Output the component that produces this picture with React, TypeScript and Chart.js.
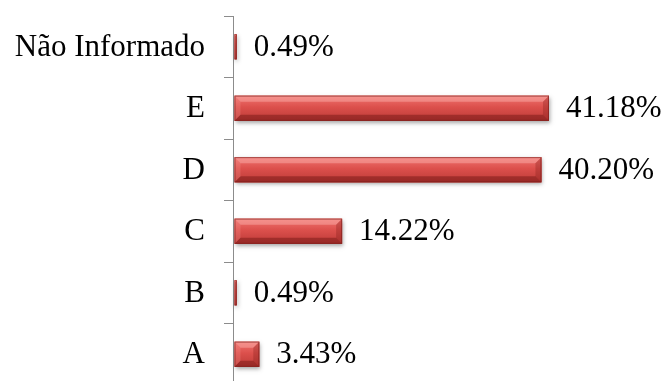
import React, { useEffect, useRef } from "react";
import { Chart, registerables } from "chart.js";

Chart.register(...registerables);

const categories = ["Não Informado", "E", "D", "C", "B", "A"];
const percentages = [0.49, 41.18, 40.2, 14.22, 0.49, 3.43];

const FONT = "'Liberation Serif', 'Times New Roman', serif";
const FONT_SIZE = 31;

function drawBevelBar(ctx: CanvasRenderingContext2D, x0: number, x1: number, y0: number, y1: number) {
  const w = x1 - x0;
  const h = y1 - y0;
  if (w <= 0) return;
  const b = Math.max(0, Math.min(6, w / 2, h / 4));

  // drop shadow
  ctx.save();
  ctx.shadowColor = "rgba(0,0,0,0.35)";
  ctx.shadowBlur = 4;
  ctx.shadowOffsetX = 1;
  ctx.shadowOffsetY = 2;
  ctx.fillStyle = "#c03f3c";
  ctx.fillRect(x0, y0, w, h);
  ctx.restore();

  // face
  const g = ctx.createLinearGradient(0, y0, 0, y1);
  g.addColorStop(0, "#f07470");
  g.addColorStop(0.45, "#dc504c");
  g.addColorStop(1, "#bc3a37");
  ctx.fillStyle = g;
  ctx.fillRect(x0, y0, w, h);

  const poly = (pts: number[][], color: string) => {
    ctx.beginPath();
    ctx.moveTo(pts[0][0], pts[0][1]);
    for (let i = 1; i < pts.length; i++) ctx.lineTo(pts[i][0], pts[i][1]);
    ctx.closePath();
    ctx.fillStyle = color;
    ctx.fill();
  };

  if (b > 0.5) {
    // top bevel
    poly([[x0, y0], [x1, y0], [x1 - b, y0 + b], [x0 + b, y0 + b]], "rgba(255,190,186,0.4)");
    // bottom bevel
    poly([[x0, y1], [x1, y1], [x1 - b, y1 - b], [x0 + b, y1 - b]], "rgba(100,15,12,0.4)");
    // right bevel
    poly([[x1, y0], [x1, y1], [x1 - b, y1 - b], [x1 - b, y0 + b]], "rgba(125,25,22,0.3)");
    // left bevel
    poly([[x0, y0], [x0, y1], [x0 + b, y1 - b], [x0 + b, y0 + b]], "rgba(255,170,165,0.2)");
  }

  ctx.strokeStyle = "rgba(120,28,25,0.6)";
  ctx.lineWidth = 1;
  ctx.strokeRect(x0 + 0.5, y0 + 0.5, Math.max(0, w - 1), h - 1);
}

const bevelBars = {
  id: "bevelBars",
  afterDatasetsDraw(chart: any) {
    const ctx = chart.ctx as CanvasRenderingContext2D;
    const meta = chart.getDatasetMeta(0);
    const yScale = chart.scales.y;
    meta.data.forEach((el: any, i: number) => {
      const { x, y, base, height } = el.getProps(["x", "y", "base", "height"], true);
      const x0 = base + 1.5;
      const x1 = Math.max(x, x0 + 1);
      drawBevelBar(ctx, x0, x1, y - height / 2, y + height / 2);

      ctx.save();
      ctx.fillStyle = "#000";
      ctx.font = `${FONT_SIZE}px ${FONT}`;
      ctx.textBaseline = "middle";
      // value label
      ctx.textAlign = "left";
      ctx.fillText(`${percentages[i].toFixed(2)}%`, x1 + 17, y + 1);
      // category label
      ctx.textAlign = "right";
      ctx.fillText(categories[i], yScale.right - 28, yScale.getPixelForValue(i) + 1);
      ctx.restore();
    });
  },
};

export default function App() {
  const ref = useRef<HTMLCanvasElement | null>(null);

  useEffect(() => {
    if (!ref.current) return;
    const chart = new Chart(ref.current, {
      type: "bar",
      data: {
        labels: categories,
        datasets: [
          {
            data: percentages,
            backgroundColor: "rgba(0,0,0,0)",
            borderWidth: 0,
            categoryPercentage: 1,
            barPercentage: 0.41,
          },
        ],
      },
      options: {
        indexAxis: "y",
        responsive: false,
        animation: false,
        layout: { padding: { top: 16, bottom: 5, left: 0, right: 0 } },
        plugins: {
          legend: { display: false },
          tooltip: { enabled: false },
        },
        scales: {
          x: {
            display: false,
            min: 0,
            max: 56.3,
          },
          y: {
            afterFit: (scale: any) => {
              scale.width = 233;
            },
            border: { display: true, color: "#8c8c8c", width: 1 },
            grid: {
              offset: true,
              drawOnChartArea: false,
              drawTicks: true,
              tickLength: 9,
              color: "#8c8c8c",
            },
            ticks: { display: false },
          },
        },
      },
      plugins: [bevelBars],
    });
    return () => chart.destroy();
  }, []);

  return (
    <div
      style={{
        position: "absolute",
        left: 0,
        top: 0,
        width: 665,
        height: 381,
        overflow: "hidden",
        background: "#fff",
      }}
    >
      <canvas ref={ref} width={665} height={390} style={{ display: "block" }} />
    </div>
  );
}
